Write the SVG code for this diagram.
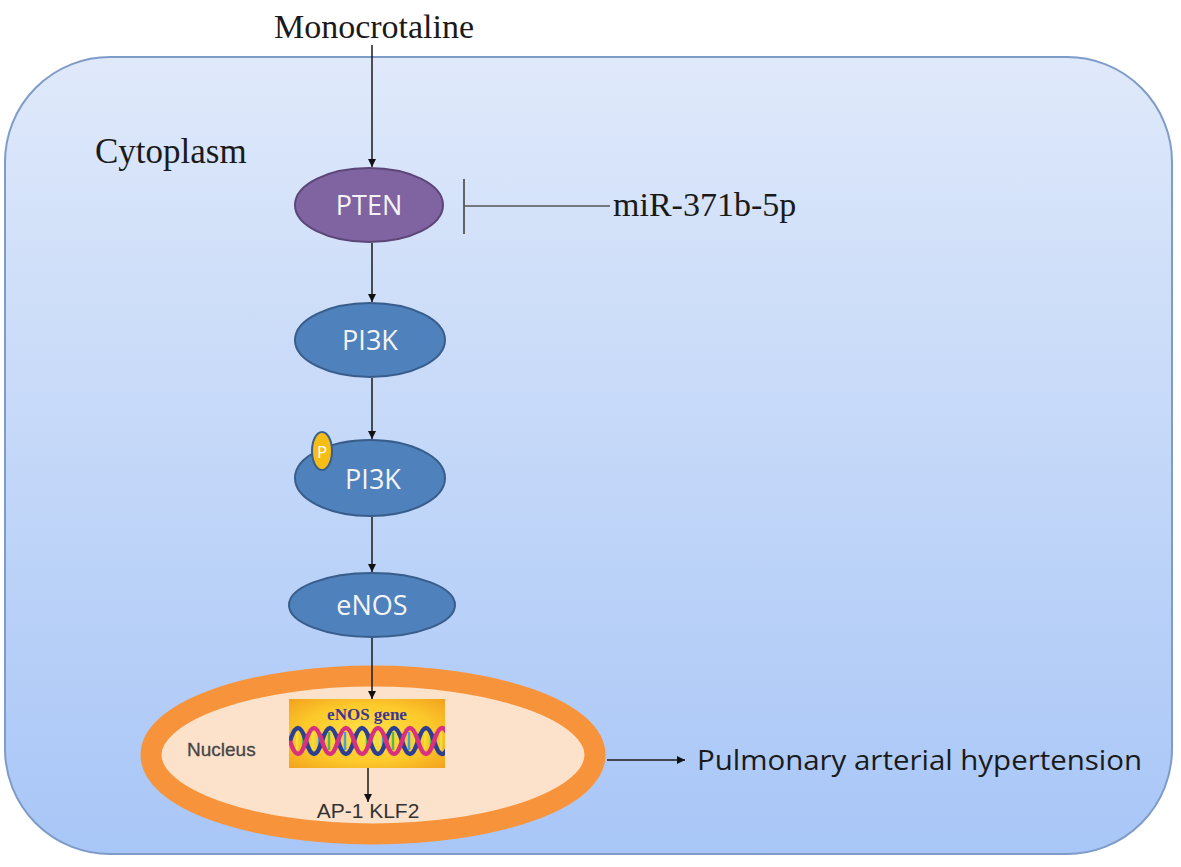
<svg xmlns="http://www.w3.org/2000/svg" width="1181" height="867" viewBox="0 0 1181 867">
<defs>
<linearGradient id="cellGrad" x1="0" y1="0" x2="0" y2="1">
<stop offset="0" stop-color="#dfe9fa"/>
<stop offset="1" stop-color="#a8c6f7"/>
</linearGradient>
<radialGradient id="geneGrad" cx="0.5" cy="0.5" r="0.7">
<stop offset="0" stop-color="#ffe24a"/>
<stop offset="0.6" stop-color="#fcc92a"/>
<stop offset="1" stop-color="#f3a21e"/>
</radialGradient>
<clipPath id="geneClip"><rect x="289" y="699" width="156" height="69"/></clipPath>
<marker id="arr" viewBox="0 0 10 10" refX="10" refY="5" markerWidth="8" markerHeight="8" markerUnits="userSpaceOnUse" orient="auto">
<path d="M0,0 L10,5 L0,10 z" fill="#111"/>
</marker>
<style>
.serif{font-family:"Liberation Serif","Times New Roman",serif;fill:#1a1a1a}
.node-label{font-family:"Open Sans","Liberation Sans",sans-serif;font-size:27px;fill:#f4f4f4;text-anchor:middle}
.sans{font-family:"Liberation Sans",Arial,sans-serif}
.conn{stroke:#1a1a1a;stroke-width:1.5;fill:none}
.blue{fill:#4f81bd;stroke:#385d8a;stroke-width:2}
.rung{stroke-width:2.5}
</style>
</defs>

<g id="cell">
<rect x="5" y="57" width="1167" height="797" rx="105" ry="105" fill="url(#cellGrad)" stroke="#7f9cc9" stroke-width="2"/>
</g>

<g id="labels">
<text class="serif" x="374" y="38" font-size="34" text-anchor="middle">Monocrotaline</text>
<text class="serif" x="95" y="163" font-size="35">Cytoplasm</text>
<text class="serif" x="613" y="216" font-size="34">miR-371b-5p</text>
<text x="697" y="770" font-family="'Open Sans','Liberation Sans',sans-serif" font-size="27" fill="#1a1a1a" textLength="445" lengthAdjust="spacingAndGlyphs">Pulmonary arterial hypertension</text>
</g>

<g id="node-pten">
<ellipse cx="369" cy="205" rx="74" ry="37" fill="#8064a2" stroke="#5c4677" stroke-width="2"/>
<text class="node-label" x="369" y="215">PTEN</text>
</g>

<g id="node-pi3k">
<ellipse class="blue" cx="370" cy="340" rx="75" ry="37"/>
<text class="node-label" x="370" y="350">PI3K</text>
</g>

<g id="node-ppi3k">
<ellipse class="blue" cx="370" cy="478" rx="75" ry="38"/>
<text class="node-label" x="373" y="489">PI3K</text>
<ellipse cx="322" cy="451" rx="10" ry="19" fill="#f6bd16" stroke="#3a5f8c" stroke-width="2"/>
<text x="322" y="458" font-family="'Open Sans','Liberation Sans',sans-serif" font-size="17" fill="#ffffff" text-anchor="middle">P</text>
</g>

<g id="node-enos">
<ellipse class="blue" cx="372" cy="605" rx="83" ry="32"/>
<text class="node-label" x="372" y="615">eNOS</text>
</g>

<g id="node-nucleus">
<ellipse cx="373" cy="755" rx="222" ry="79" fill="#fde2cb" stroke="#f7943b" stroke-width="21"/>
<text class="sans" x="187" y="756" font-size="19" fill="#454545" stroke="#454545" stroke-width="0.3">Nucleus</text>
<text class="sans" x="368" y="818" font-size="21" fill="#333" text-anchor="middle">AP-1 KLF2</text>
</g>

<g id="node-gene">
<rect x="289" y="699" width="156" height="69" fill="url(#geneGrad)"/>
<g clip-path="url(#geneClip)">
<g class="rung">
<line x1="297" y1="732" x2="297" y2="750" stroke="#f0e030"/>
<line x1="303" y1="732" x2="303" y2="750" stroke="#59b94a"/>
<line x1="313" y1="732" x2="313" y2="750" stroke="#e8e040"/>
<line x1="319" y1="732" x2="319" y2="750" stroke="#4aa0d8"/>
<line x1="329" y1="732" x2="329" y2="750" stroke="#59b94a"/>
<line x1="335" y1="732" x2="335" y2="750" stroke="#f0e030"/>
<line x1="345" y1="732" x2="345" y2="750" stroke="#4aa0d8"/>
<line x1="351" y1="732" x2="351" y2="750" stroke="#e8e040"/>
<line x1="361" y1="732" x2="361" y2="750" stroke="#f0e030"/>
<line x1="367" y1="732" x2="367" y2="750" stroke="#59b94a"/>
<line x1="377" y1="732" x2="377" y2="750" stroke="#e8e040"/>
<line x1="383" y1="732" x2="383" y2="750" stroke="#4aa0d8"/>
<line x1="393" y1="732" x2="393" y2="750" stroke="#59b94a"/>
<line x1="399" y1="732" x2="399" y2="750" stroke="#f0e030"/>
<line x1="409" y1="732" x2="409" y2="750" stroke="#4aa0d8"/>
<line x1="415" y1="732" x2="415" y2="750" stroke="#e8e040"/>
<line x1="425" y1="732" x2="425" y2="750" stroke="#f0e030"/>
<line x1="431" y1="732" x2="431" y2="750" stroke="#59b94a"/>
<line x1="441" y1="732" x2="441" y2="750" stroke="#e8e040"/>
</g>
<path d="M290,741 Q298,715 306,741 T322,741 T338,741 T354,741 T370,741 T386,741 T402,741 T418,741 T434,741 T450,741" fill="none" stroke="#2d3f92" stroke-width="4.5"/>
<path d="M290,741 Q298,767 306,741 T322,741 T338,741 T354,741 T370,741 T386,741 T402,741 T418,741 T434,741 T450,741" fill="none" stroke="#d8327e" stroke-width="4.5"/>
</g>
<text x="367" y="720" font-family="'Liberation Serif','Times New Roman',serif" font-weight="bold" font-size="17" fill="#3e3595" text-anchor="middle">eNOS gene</text>
</g>

<g id="connectors">
<line class="conn" x1="372" y1="45" x2="372" y2="167" marker-end="url(#arr)"/>
<line class="conn" x1="372" y1="243" x2="372" y2="302" marker-end="url(#arr)"/>
<line class="conn" x1="372" y1="378" x2="372" y2="439" marker-end="url(#arr)"/>
<line class="conn" x1="372" y1="517" x2="372" y2="572" marker-end="url(#arr)"/>
<line class="conn" x1="372" y1="638" x2="372" y2="699" marker-end="url(#arr)"/>
<line class="conn" x1="368" y1="768" x2="368" y2="802" marker-end="url(#arr)"/>
<line class="conn" x1="607" y1="760" x2="685" y2="760" marker-end="url(#arr)"/>
<line x1="464" y1="179" x2="464" y2="234" stroke="#555" stroke-width="1.8"/>
<line x1="464" y1="206" x2="610" y2="206" stroke="#555" stroke-width="1.5"/>
</g>
</svg>
